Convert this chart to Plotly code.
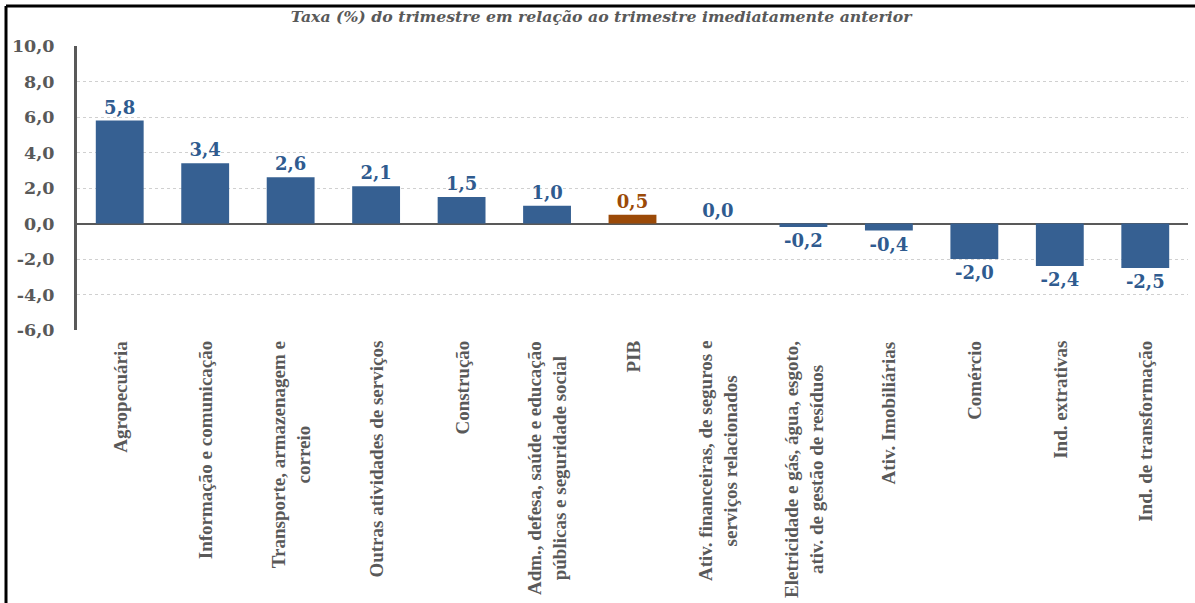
import plotly.graph_objects as go

# Sectors and quarter-on-quarter growth rates (%)
categories = [
    "Agropecuária",
    "Informação e comunicação",
    "Transporte, armazenagem e<br>correio",
    "Outras atividades de serviços",
    "Construção",
    "Adm., defesa, saúde e educação<br>públicas e seguridade social",
    "PIB",
    "Ativ. financeiras, de seguros e<br>serviços relacionados",
    "Eletricidade e gás, água, esgoto,<br>ativ. de gestão de resíduos",
    "Ativ. Imobiliárias",
    "Comércio",
    "Ind. extrativas",
    "Ind. de transformação",
]
values = [5.8, 3.4, 2.6, 2.1, 1.5, 1.0, 0.5, 0.0, -0.2, -0.4, -2.0, -2.4, -2.5]
highlight = "PIB"

tick_values = [-6, -4, -2, 0, 2, 4, 6, 8, 10]
title_text = "Taxa (%) do trimestre em relação ao trimestre imediatamente anterior"

BLUE = "#366092"
BLUE_TXT = "#2f5b8f"
BROWN = "#9b4a08"
GRAY = "#595959"


def fmt(v):
    return f"{v:.1f}".replace(".", ",")


x_idx = list(range(len(categories)))
bar_colors = [BROWN if c == highlight else BLUE for c in categories]
txt_colors = [BROWN if c == highlight else BLUE_TXT for c in categories]

fig = go.Figure(
    go.Bar(
        x=x_idx,
        y=values,
        width=0.56,
        marker=dict(color=bar_colors, line=dict(width=0)),
        text=[fmt(v) for v in values],
        textposition="outside",
        textfont=dict(family="DejaVu Serif", size=18, color=txt_colors, weight="bold"),
        cliponaxis=False,
        hoverinfo="skip",
    )
)

# Rotated category labels under the axis, lines centred
for i, c in enumerate(categories):
    fig.add_annotation(
        x=i, xref="x",
        y=0, yref="paper",
        yshift=-9,
        text=c,
        textangle=-90,
        xanchor="center", yanchor="top",
        align="center",
        showarrow=False,
        font=dict(family="Liberation Serif", size=19, color=GRAY, weight="bold"),
    )

# Frame along the top and left edges
fig.add_shape(type="line", xref="paper", yref="paper",
              x0=-0.0639, x1=1.02, y0=1.1408, y1=1.1408,
              line=dict(color="black", width=3))
fig.add_shape(type="line", xref="paper", yref="paper",
              x0=-0.0639, x1=-0.0639, y0=1.1408, y1=-1.0,
              line=dict(color="black", width=3))

fig.update_layout(
    width=1195,
    height=603,
    margin=dict(l=77, r=7, t=46, b=273),
    paper_bgcolor="white",
    plot_bgcolor="white",
    showlegend=False,
    title=dict(
        text=title_text,
        xref="container", x=0.503,
        yref="container", y=0.972, yanchor="middle", xanchor="center",
        font=dict(family="DejaVu Serif", size=15.7, color=GRAY, weight="bold", style="italic"),
    ),
    xaxis=dict(
        range=[-0.5, len(categories) - 0.5],
        showticklabels=False,
        showgrid=False,
        zeroline=False,
        showline=False,
        ticks="",
    ),
    yaxis=dict(
        range=[-6, 10],
        tickvals=tick_values,
        ticktext=[fmt(v) for v in tick_values],
        tickfont=dict(family="DejaVu Serif", size=17.5, color=GRAY, weight="bold"),
        ticks="",
        ticklabelstandoff=16,
        showgrid=True,
        gridcolor="#d0d0d0",
        griddash="dot",
        gridwidth=1,
        zeroline=True,
        zerolinecolor=GRAY,
        zerolinewidth=2,
        showline=True,
        linecolor=GRAY,
        linewidth=3,
    ),
)

fig.write_html("out.html")
